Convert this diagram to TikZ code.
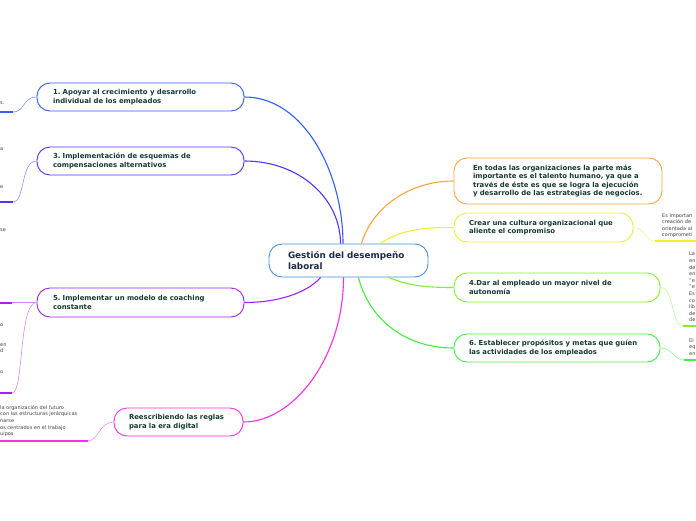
\documentclass[tikz,border=0pt]{standalone}
\usepackage{fontspec}
\setmainfont{DejaVu Sans}
\definecolor{cA}{HTML}{2F5DFF}
\definecolor{cAl}{HTML}{7F9DFF}
\definecolor{cB}{HTML}{5A30FF}
\definecolor{cBl}{HTML}{A088FF}
\definecolor{cCc}{HTML}{A020F5}
\definecolor{cCl}{HTML}{CC8CFF}
\definecolor{cR}{HTML}{FF2EE0}
\definecolor{cRl}{HTML}{FF8CEE}
\definecolor{cE}{HTML}{FFA53A}
\definecolor{cY}{HTML}{EEF229}
\definecolor{cYl}{HTML}{F5F78A}
\definecolor{cD}{HTML}{84EE28}
\definecolor{cDl}{HTML}{C4F59A}
\definecolor{cS}{HTML}{44EE44}
\definecolor{cSl}{HTML}{9AF59A}
\definecolor{cM}{HTML}{4A90D0}
\definecolor{ntxt}{HTML}{133A30}
\definecolor{mtxt}{HTML}{1F2A48}
\definecolor{gtxt}{HTML}{444444}
\tikzset{
  mm/.style={draw, line width=0.9pt, rounded corners=13pt, fill=white,
    font=\bfseries\fontsize{6.9}{8.5}\selectfont, text=ntxt, align=left,
    inner xsep=16pt, inner ysep=0pt},
  conn/.style={line width=1.1pt},
  sub/.style={line width=0.6pt},
  ul/.style={line width=2pt},
  smalltxt/.style={font=\fontsize{5}{6.6}\selectfont, text=gtxt, align=left,
    inner sep=0pt, anchor=north west}
}
\begin{document}
\frenchspacing
\begin{tikzpicture}[x=1pt,y=-1pt]
\useasboundingbox[fill=white] (0,0) rectangle (696,520);

% main nodes
\node[mm, draw=cM, text width=121pt, inner xsep=19pt, minimum height=33pt, text=mtxt,
  font=\bfseries\fontsize{8.8}{10.5}\selectfont] (n0) at (348.5,260.5) {Gestión del desempeño\\laboral};
\node[mm, draw=cA, text width=175pt, minimum height=28pt] (n1) at (140.5,97) {1. Apoyar al crecimiento y desarrollo\\individual de los empleados};
\node[mm, draw=cB, text width=175pt, minimum height=28pt] (n3) at (140.5,161) {3. Implementación de esquemas de\\compensaciones alternativos};
\node[mm, draw=cCc, text width=175pt, minimum height=29pt] (n5) at (140.5,302.5) {5. Implementar un modelo de coaching\\constante};
\node[mm, draw=cR, text width=99pt, inner xsep=15pt, minimum height=28pt] (nR) at (178.5,422) {Reescribiendo las reglas\\para la era digital};
\node[mm, draw=cE, text width=170pt, inner xsep=19pt, minimum height=46pt] (nE) at (558,181) {En todas las organizaciones la parte más\\importante es el talento humano, ya que a\\través de éste es que se logra la ejecución\\y desarrollo de las estrategias de negocios.};
\node[mm, draw=cY, text width=149pt, inner xsep=15pt, minimum height=29pt] (nC) at (543.5,227.5) {Crear una cultura organizacional que\\aliente el compromiso};
\node[mm, draw=cD, text width=176pt, inner xsep=15pt, minimum height=29pt] (nD) at (557,287.5) {4.Dar al empleado un mayor nivel de\\autonomía};
\node[mm, draw=cS, text width=176pt, inner xsep=15pt, minimum height=28pt] (nS) at (557,348) {6. Establecer propósitos y metas que guíen\\las actividades de los empleados};

% main connectors
\draw[conn, cA] ([xshift=-5.5pt]n0.north) .. controls +(0,-70) and +(60,0) .. (n1.east);
\draw[conn, cB] ([xshift=-8pt]n0.north) .. controls +(0,-45) and +(55,0) .. (n3.east);
\draw[conn, cCc] ([xshift=-28pt]n0.south) .. controls +(-10,12) and +(40,0) .. (n5.east);
\draw[conn, cR] ([xshift=-5pt]n0.south) .. controls +(0,80) and +(50,0) .. (nR.east);
\draw[conn, cE] ([xshift=13pt]n0.north) .. controls +(10,-35) and +(-45,0) .. (nE.west);
\draw[conn, cY] ([xshift=32pt]n0.north) .. controls +(20,-14) and +(-30,0) .. (nC.west);
\draw[conn, cD] ([xshift=40pt]n0.south) .. controls +(20,8) and +(-30,0) .. (nD.west);
\draw[conn, cS] ([xshift=10pt]n0.south) .. controls +(10,40) and +(-50,0) .. (nS.west);

% sub connectors (left)
\coordinate (e1) at (13,112); \coordinate (f1) at (0,112);
\draw[sub, cAl] (n1.west) .. controls +(-14,0) and +(12,0) .. (e1);
\draw[ul, cA] (e1) -- (f1);
\coordinate (e3) at (13,202); \coordinate (f3) at (0,202);
\draw[sub, cBl] (n3.west) .. controls +(-16,0) and +(12,0) .. (e3);
\draw[ul, cB] (e3) -- (f3);
\coordinate (e5a) at (12,302.5); \coordinate (f5a) at (0,302.5);
\draw[sub, cCl] (n5.west) -- (e5a);
\draw[ul, cCc] (e5a) -- (f5a);
\coordinate (e5b) at (12,393); \coordinate (f5b) at (0,393);
\draw[sub, cCl] (n5.west) .. controls +(-18,0) and +(12,0) .. (e5b);
\draw[ul, cCc] (e5b) -- (f5b);
\coordinate (eR) at (88,441); \coordinate (fR) at (0,441);
\draw[sub, cRl] (nR.west) .. controls +(-14,0) and +(10,0) .. (eR);
\draw[ul, cR] (eR) -- (fR);
% sub connectors (right)
\coordinate (eC) at (655,241); \coordinate (fC) at (696,241);
\draw[sub, cYl] (nC.east) .. controls +(12,0) and +(-10,0) .. (eC);
\draw[ul, cY] (eC) -- (fC);
\coordinate (eD) at (683,326); \coordinate (fD) at (696,326);
\draw[sub, cDl] (nD.east) .. controls +(14,0) and +(-12,0) .. (eD);
\draw[ul, cD] (eD) -- (fD);
\coordinate (eS) at (684,360); \coordinate (fS) at (696,360);
\draw[sub, cSl] (nS.east) .. controls +(12,0) and +(-10,0) .. (eS);
\draw[ul, cS] (eS) -- (fS);

% edge text fragments
\node[smalltxt] (t1) at (0,101) {s.};
\node[smalltxt] (t2) at (0,147) {a};
\node[smalltxt] (t3) at (0,185) {e};
\node[smalltxt] (t4) at (0,228) {se};
\node[smalltxt] (t5) at (0,323) {o};
\node[smalltxt] (t6) at (0,343) {en\\d};
\node[smalltxt] (t7) at (0,370) {o};
\node[smalltxt] (tR) at (0,405) {la organización del futuro\\con las estructuras jerárquicas\\narse\\os centrados en el trabajo\\uipos};
\node[smalltxt] (tC) at (662,213) {Es importan\\creación de\\orientada al\\comprometi};
\node[smalltxt] (tD) at (689,252) {La\\en\\de\\en\\"e\\"e\\Es\\co\\lib\\de\\de};
\node[smalltxt] (tS) at (689,338) {El\\eq\\en};
\end{tikzpicture}
\end{document}
